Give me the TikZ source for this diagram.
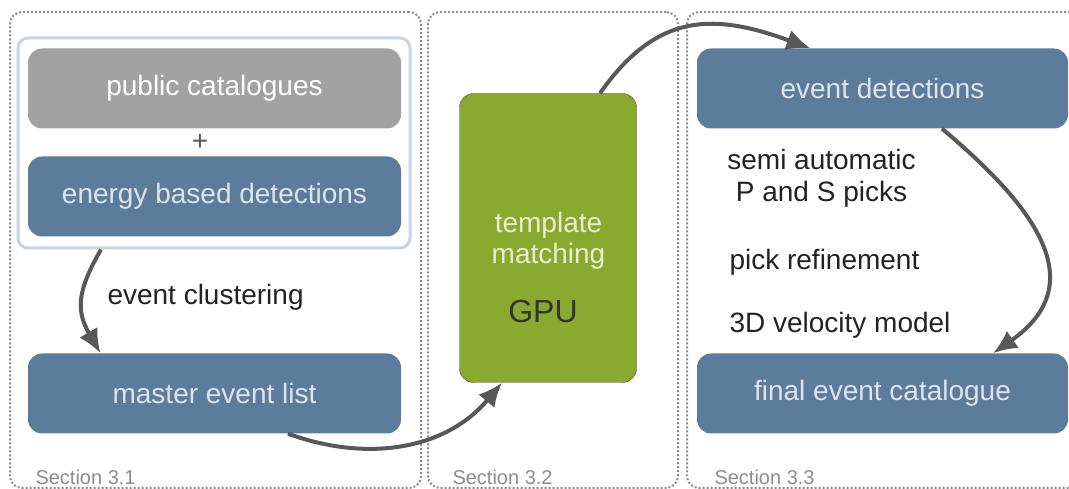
\documentclass[tikz,border=0pt]{standalone}
\usepackage{fontspec}
\setmainfont{Liberation Sans}
\usetikzlibrary{arrows.meta,positioning}
\definecolor{boxblue}{HTML}{5D7C9B}
\definecolor{boxtext}{HTML}{DCE4EC}
\definecolor{boxgrey}{HTML}{A2A2A2}
\definecolor{tmgreen}{HTML}{8AAA2F}
\definecolor{tmtextcol}{HTML}{E6EED6}
\definecolor{arrowgrey}{HTML}{585858}
\definecolor{secgrey}{HTML}{8C8C8C}
\definecolor{grpline}{HTML}{C8D4E2}
\definecolor{darktext}{HTML}{222222}
\tikzset{
  section/.style={
    rectangle,
    rounded corners=12pt,
    draw=secgrey,
    line width=2pt,
    dotted,
    minimum height=476pt
    },
  seclabel/.style={
    anchor=west,
    text=secgrey,
    font=\fontsize{20pt}{22pt}\selectfont
    },
  group/.style={
    rectangle,
    rounded corners=10pt,
    draw=grpline,
    line width=3pt,
    fill=white,
    minimum width=392pt,
    minimum height=210pt
    },
  bluebox/.style={
    rectangle,
    rounded corners=14pt,
    fill=boxblue,
    text=boxtext,
    minimum width=373pt,
    minimum height=80pt,
    font=\fontsize{28pt}{31pt}\selectfont
    },
  greybox/.style={
    bluebox,
    fill=boxgrey,
    text=white
    },
  tmbox/.style={
    rectangle,
    rounded corners=14pt,
    draw=black!70,
    fill=tmgreen,
    minimum width=177pt,
    minimum height=289pt
    },
  note/.style={
    text=darktext,
    align=center,
    font=\fontsize{28pt}{32pt}\selectfont
    },
  flow/.style={
    ->,
    line width=4pt,
    draw=arrowgrey
    },
}

\begin{document}
\begin{tikzpicture}[
            x = 1pt, y = 1pt,
            > = {Latex[length=24pt, width=21pt]} % arrow head style
        ]
  \useasboundingbox (0,0) rectangle (1069,489);

  % the three sections
  \node[section, minimum width=411pt] (sec1) at (215.5,239) {};
  \node[section, minimum width=250pt] (sec2) at (553,239) {};
  \node[section, minimum width=403pt] (sec3) at (888.5,239) {};
  \node[seclabel] (lab1) at (32,12) {Section 3.1};
  \node[seclabel] (lab2) at (449,12) {Section 3.2};
  \node[seclabel] (lab3) at (711,12) {Section 3.3};

  % section 3.1
  \node[group] (grp) at (214,346) {};
  \node[greybox] (pub) at (214.5,400.5) {public catalogues};
  \node[text=arrowgrey, font=\fontsize{28pt}{30pt}\selectfont] (plus) at (200,347) {+};
  \node[bluebox] (energy) at (214.5,292.5) {energy based detections};
  \node[bluebox] (master) at (214.5,95.5) {master event list};
  \node[note, anchor=west] (clust) at (104,192) {event clustering};

  % section 3.2
  \node[tmbox] (tm) at (548,251) {};
  \node[note, text=tmtextcol, font=\fontsize{28pt}{31pt}\selectfont] (tmlab) at (548.5,248) {template\\matching};
  \node[note, text=black!80, font=\fontsize{32pt}{34pt}\selectfont] (gpu) at (543,178) {GPU};

  % section 3.3
  \node[bluebox, minimum width=371pt] (det) at (882.5,400.5) {event detections};
  \node[bluebox, minimum width=371pt] (final) at (882.5,95.5) {final event catalogue};
  \node[note] (picks) at (821.5,311) {semi automatic\\P and S picks};
  \node[note, anchor=west] (refine) at (726,227) {pick refinement};
  \node[note, anchor=west] (vel) at (726,164) {3D velocity model};

  % connectors
  \draw[flow] ([xshift=-113pt]grp.south) to[out=240, in=120, looseness=1.2] ([xshift=-114pt]master.north);
  \draw[flow] ([xshift=73.5pt]master.south) to[out=-20, in=230] ([xshift=-46pt]tm.south);
  \draw[flow] ([xshift=52pt]tm.north) to[out=55, in=160, looseness=1.2] ([xshift=-72pt]det.north);
  \draw[flow] ([xshift=59.5pt]det.south) to[out=-40, in=35, looseness=1.35] ([xshift=110.5pt]final.north);
\end{tikzpicture}
\end{document}
